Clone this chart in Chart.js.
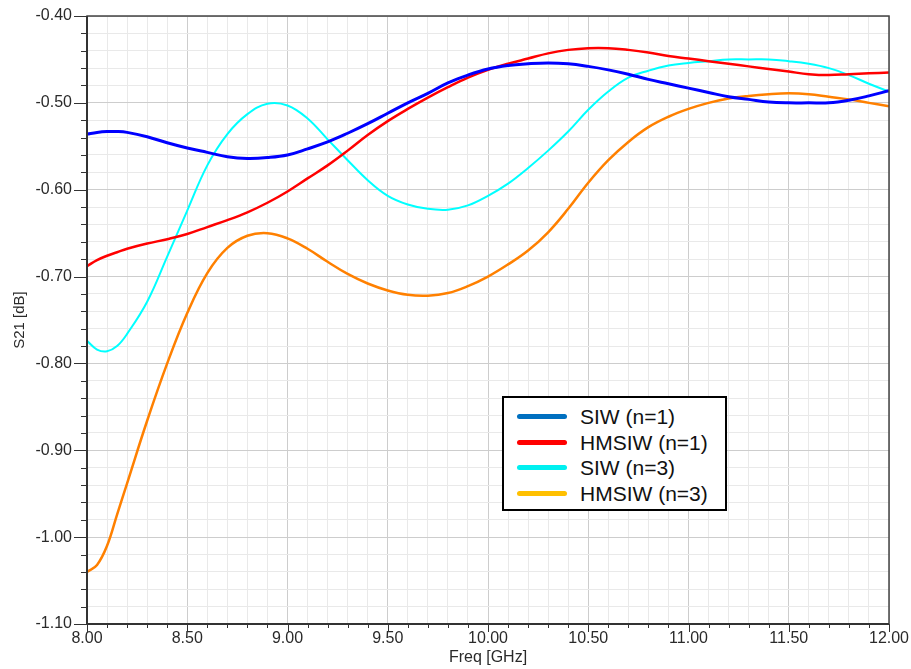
<!DOCTYPE html>
<html>
<head>
<meta charset="utf-8">
<script src="https://cdn.jsdelivr.net/npm/chart.js@4"></script>
<style>
  body { margin: 0; background: #fff; }
  #wrap { position: relative; width: 911px; height: 669px; }
  #legend {
    position: absolute; left: 502px; top: 396px; width: 221px; height: 111px;
    border: 2px solid #000; background: #fff;
    font-family: Arial, "Liberation Sans", sans-serif; font-size: 21px; color: #111;
  }
  #legend .row { position: absolute; left: 0; height: 25px; line-height: 25px; white-space: nowrap; }
  #legend .sw { position: absolute; left: 13px; top: 10px; width: 50px; height: 5px; border-radius: 3px; }
  #legend .lbl { position: absolute; left: 76px; top: 0; }
</style>
</head>
<body>
<div id="wrap">
  <canvas id="c" width="911" height="669"></canvas>
  <div id="legend"></div>
</div>
<script>
// frequency points (GHz)
const freq = [8.0, 8.05, 8.1, 8.15, 8.2, 8.3, 8.4, 8.5, 8.6, 8.7, 8.8, 8.9, 9.0, 9.1, 9.2, 9.3, 9.4, 9.5, 9.6, 9.7,
  9.8, 9.9, 10.0, 10.1, 10.2, 10.3, 10.4, 10.5, 10.6, 10.7, 10.8, 10.9, 11.0, 11.1, 11.2, 11.3, 11.4, 11.5,
  11.6, 11.7, 11.8, 11.9, 12.0];

// S21 [dB]
const siwN1 = [-0.536, -0.534, -0.533, -0.533, -0.534, -0.539, -0.546, -0.552, -0.557, -0.562, -0.564, -0.563,
  -0.560, -0.553, -0.545, -0.535, -0.524, -0.512, -0.500, -0.489, -0.477, -0.468, -0.461, -0.457, -0.455,
  -0.454, -0.455, -0.458, -0.462, -0.467, -0.473, -0.478, -0.483, -0.488, -0.493, -0.496, -0.499, -0.500,
  -0.500, -0.500, -0.497, -0.492, -0.486];
const hmsiwN1 = [-0.688, -0.681, -0.676, -0.672, -0.668, -0.662, -0.657, -0.651, -0.643, -0.635, -0.626, -0.615,
  -0.602, -0.587, -0.572, -0.555, -0.537, -0.521, -0.507, -0.494, -0.482, -0.471, -0.462, -0.455, -0.449,
  -0.443, -0.439, -0.437, -0.437, -0.439, -0.442, -0.446, -0.449, -0.452, -0.455, -0.458, -0.461, -0.464,
  -0.467, -0.468, -0.467, -0.466, -0.465];
const siwN3 = [-0.774, -0.784, -0.786, -0.780, -0.766, -0.729, -0.677, -0.624, -0.572, -0.536, -0.513, -0.501,
  -0.503, -0.518, -0.542, -0.566, -0.589, -0.607, -0.617, -0.622, -0.623, -0.618, -0.607, -0.593, -0.575,
  -0.555, -0.533, -0.508, -0.487, -0.471, -0.463, -0.457, -0.454, -0.452, -0.450, -0.450, -0.450, -0.452,
  -0.455, -0.460, -0.468, -0.478, -0.487];
const hmsiwN3 = [-1.040, -1.032, -1.010, -0.974, -0.938, -0.866, -0.800, -0.742, -0.696, -0.667, -0.653, -0.650,
  -0.656, -0.668, -0.683, -0.697, -0.708, -0.716, -0.721, -0.722, -0.719, -0.711, -0.700, -0.686, -0.670,
  -0.649, -0.622, -0.592, -0.566, -0.545, -0.528, -0.516, -0.507, -0.500, -0.495, -0.492, -0.490, -0.489,
  -0.490, -0.493, -0.496, -0.500, -0.504];

const seriesNames = ['SIW (n=1)', 'HMSIW (n=1)', 'SIW (n=3)', 'HMSIW (n=3)'];
const lineColors = ['#0000ff', '#ff0000', '#00ffff', '#ff8000'];
const legendColors = ['#0070c0', '#ff0000', '#00f0f0', '#ffc000'];

const xMajor = 0.5, yMajor = 0.1;
function isMajor(v, step) {
  return Math.abs(v / step - Math.round(v / step)) < 1e-6;
}

const pts = ys => freq.map((f, i) => ({ x: f, y: ys[i] }));
const allSeries = [siwN1, hmsiwN1, siwN3, hmsiwN3];
const widths = [3, 2.5, 2, 2.5];

// tick marks + frame drawn on top of the scales
const frameTicks = {
    id: 'frameTicks',
    afterDraw(chart) {
        const { ctx, chartArea: a, scales: { x, y } } = chart;
        ctx.save();
        ctx.strokeStyle = '#333';
        ctx.lineWidth = 1;
        ctx.beginPath();
        x.ticks.forEach(t => {
            const px = Math.round(x.getPixelForValue(t.value)) + 0.5;
            ctx.moveTo(px, a.bottom);
            ctx.lineTo(px, a.bottom + (isMajor(t.value, xMajor) ? 8 : 4));
        });
        y.ticks.forEach(t => {
            const py = Math.round(y.getPixelForValue(t.value)) + 0.5;
            ctx.moveTo(a.left, py);
            ctx.lineTo(a.left - (isMajor(t.value, yMajor) ? 13 : 6), py);
        });
        ctx.stroke();

        ctx.strokeStyle = '#444';
        ctx.lineWidth = 1.5;
        ctx.strokeRect(a.left, a.top, a.right - a.left, a.bottom - a.top);
        ctx.strokeStyle = '#333';
        ctx.lineWidth = 2;
        ctx.beginPath();
        ctx.moveTo(a.left, a.top);
        ctx.lineTo(a.left, a.bottom);
        ctx.lineTo(a.right, a.bottom);
        ctx.stroke();
        ctx.restore();
    }
};

const font = { family: 'Arial, "Liberation Sans", sans-serif' };

new Chart(document.getElementById('c').getContext('2d'), {
    type: 'line',
    data: {
        datasets: allSeries.map((s, i) => ({
            label: seriesNames[i],
            data: pts(s),
            borderColor: lineColors[i],
            borderWidth: widths[i],
            pointRadius: 0,
            fill: false,
            tension: 0.4
        }))
    },
    options: {
        responsive: false,
        animation: false,
        layout: { padding: { top: 16, right: 22, left: 0, bottom: 0 } },
        plugins: {
            legend: { display: false },
            tooltip: { enabled: false }
        },
        scales: {
            x: {
                type: 'linear',
                min: 8, max: 12,
                afterFit: s => { s.height = 45; },
                border: { display: false },
                grid: {
                    drawTicks: true,
                    tickLength: 4,
                    tickColor: 'rgba(0,0,0,0)',
                    color: c => isMajor(c.tick.value, xMajor) ? '#cdcdcd' : '#e9e9e9',
                    lineWidth: 1
                },
                ticks: {
                    stepSize: 0.1,
                    autoSkip: false,
                    maxRotation: 0,
                    maxTicksLimit: 100,
                    padding: 1,
                    color: '#2a2a2a',
                    font: { ...font, size: 16 },
                    callback: v => isMajor(v, xMajor) ? v.toFixed(2) : ''
                },
                title: {
                    display: true,
                    text: 'Freq [GHz]',
                    color: '#2a2a2a',
                    font: { ...font, size: 16 },
                    padding: { top: 0, bottom: 2 }
                }
            },
            y: {
                min: -1.1, max: -0.4,
                afterFit: s => { s.width = 87; },
                border: { display: false },
                grid: {
                    drawTicks: true,
                    tickLength: 15,
                    tickColor: 'rgba(0,0,0,0)',
                    color: c => isMajor(c.tick.value, yMajor) ? '#cdcdcd' : '#e9e9e9',
                    lineWidth: 1
                },
                ticks: {
                    stepSize: 0.02,
                    autoSkip: false,
                    maxTicksLimit: 100,
                    padding: 0,
                    color: '#2a2a2a',
                    font: { ...font, size: 16 },
                    callback: v => isMajor(v, yMajor) ? v.toFixed(2) : ''
                },
                title: {
                    display: true,
                    text: 'S21 [dB]',
                    color: '#2a2a2a',
                    font: { ...font, size: 15 },
                    padding: { top: 11, bottom: 0 }
                }
            }
        }
    },
    plugins: [frameTicks]
});

// legend box inside the plot
const legendEl = document.getElementById('legend');
seriesNames.forEach((name, i) => {
    const row = document.createElement('div');
    row.className = 'row';
    row.style.top = (6 + i * 25.5) + 'px';
    row.innerHTML = '<span class="sw" style="background:' + legendColors[i] + '"></span><span class="lbl">' + name + '</span>';
    legendEl.appendChild(row);
});
</script>
</body>
</html>
